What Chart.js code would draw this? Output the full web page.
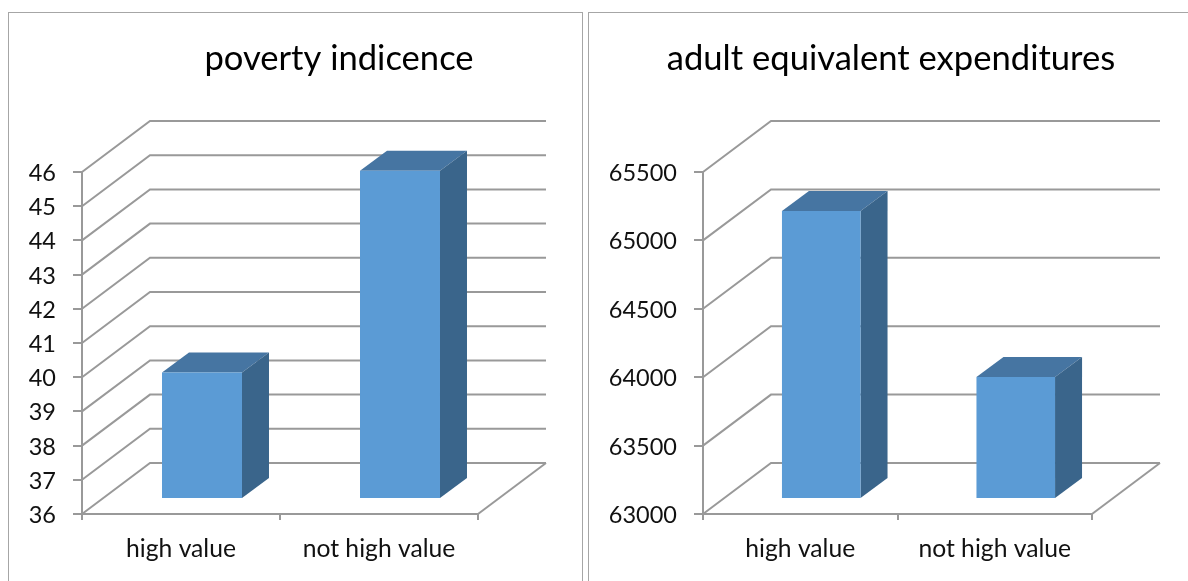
<!DOCTYPE html>
<html>
<head>
<meta charset="utf-8">
<script src="https://cdn.jsdelivr.net/npm/chart.js@4"></script>
<style>
    body{margin:0;background:#fff;width:1188px;height:581px;overflow:hidden;position:relative}
    canvas{position:absolute;top:0}
    #chartLeft{left:0}
    #chartRight{left:594px}
    .frame{position:absolute;top:12px;height:600px;border:1.5px solid #a6a6a6;box-sizing:border-box}
</style>
</head>
<body>
<div class="frame" style="left:8px;width:575px"></div>
<div class="frame" style="left:588px;width:640px"></div>
<canvas id="chartLeft" width="594" height="581"></canvas>
<canvas id="chartRight" width="594" height="581"></canvas>
<script>
var categories=['high value','not high value'];
var povertyTitle='poverty indicence';
var povertyValues=[39.7,45.6];
var povertyMin=36, povertyMax=46, povertyStep=1;
var adultTitle='adult equivalent expenditures';
var adultValues=[65105,63892];
var adultMin=63000, adultMax=65500, adultStep=500;

var gridColor='#999';
var wallX=68, wallY=-51;    // depth of the whole box
var barX=21, barY=-15;      // how far the bars stand behind the front
var depthX=27, depthY=-20;  // depth of one bar

var box3d={
    id:'box3d',
    afterLayout:function(chart,args,opts){
        // title is not centred over the plot in the original
        chart.titleBlock.left=opts.titleCenter-290;
        chart.titleBlock.right=opts.titleCenter+290;
    },
    beforeDatasetsDraw:function(chart){
        var c=chart.ctx, yScale=chart.scales.y, area=chart.chartArea;
        c.save();
        c.strokeStyle=gridColor;
        c.lineWidth=2;
        yScale.ticks.forEach(function(t,i){
            var y=yScale.getPixelForTick(i);
            c.beginPath();
            c.moveTo(area.left,y);
            c.lineTo(area.left+wallX,y+wallY);
            c.lineTo(area.right+wallX,y+wallY);
            c.stroke();
        });
        c.beginPath();
        c.moveTo(area.right,area.bottom);
        c.lineTo(area.right+wallX,area.bottom+wallY);
        c.stroke();
        // sides of the bars go under the front face
        chart.getDatasetMeta(0).data.forEach(function(bar){
            var x0=bar.x-bar.width/2+barX, x1=bar.x+bar.width/2+barX;
            var top=bar.y+barY, bot=bar.base+barY;
            c.fillStyle='#4675a2';
            c.beginPath();
            c.moveTo(x0,top);
            c.lineTo(x0+depthX,top+depthY);
            c.lineTo(x1+depthX,top+depthY);
            c.lineTo(x1,top);
            c.closePath();
            c.fill();
            c.fillStyle='#3a658b';
            c.beginPath();
            c.moveTo(x1,top);
            c.lineTo(x1+depthX,top+depthY);
            c.lineTo(x1+depthX,bot+depthY);
            c.lineTo(x1,bot);
            c.closePath();
            c.fill();
        });
        c.restore();
    },
    beforeDatasetDraw:function(chart){
        chart.ctx.save();
        chart.ctx.translate(barX,barY);
    },
    afterDatasetDraw:function(chart){
        chart.ctx.restore();
    }
};

function makeChart(id,title,values,min,max,step,leftWidth,rightPad,titleCenter){
    var ctx=document.getElementById(id).getContext('2d');
    return new Chart(ctx,{
        type:'bar',
        data:{
            labels:categories,
            datasets:[{
                data:values,
                base:min,
                backgroundColor:'#5b9bd5',
                barPercentage:0.404,
                categoryPercentage:1,
                clip:false
            }]
        },
        options:{
            responsive:false,
            animation:false,
            devicePixelRatio:1,
            layout:{padding:{left:0,right:rightPad,top:0,bottom:0}},
            plugins:{
                legend:{display:false},
                tooltip:{enabled:false},
                box3d:{titleCenter:titleCenter},
                title:{
                    display:true,
                    text:title,
                    color:'#000',
                    font:{family:'Lato',size:34.6,weight:'normal'},
                    padding:{top:38,bottom:92.5}
                }
            },
            scales:{
                x:{
                    grid:{drawOnChartArea:false,color:gridColor,lineWidth:2,tickLength:6},
                    border:{color:gridColor,width:2},
                    ticks:{color:'#111',font:{family:'Lato',size:24.7},padding:14,maxRotation:0},
                    afterFit:function(axis){axis.height=67;}
                },
                y:{
                    min:min,
                    max:max,
                    grid:{drawOnChartArea:false,color:gridColor,lineWidth:2,tickLength:9},
                    border:{color:gridColor,width:2},
                    ticks:{
                        stepSize:step,
                        color:'#111',
                        font:{family:'Lato',size:23.5},
                        padding:17,
                        labelOffset:1.5,
                        callback:function(v){return String(v);}
                    },
                    afterFit:function(axis){axis.width=leftWidth;}
                }
            }
        },
        plugins:[box3d]
    });
}

makeChart('chartLeft',povertyTitle,povertyValues,povertyMin,povertyMax,povertyStep,82,116,339);
makeChart('chartRight',adultTitle,adultValues,adultMin,adultMax,adultStep,109,96,297);
</script>
</body>
</html>
